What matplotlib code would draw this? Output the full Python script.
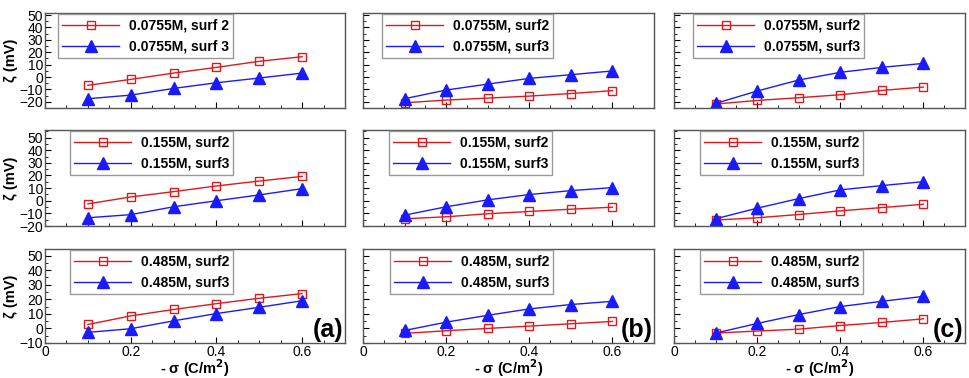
import numpy as np
import matplotlib.pyplot as plt
from matplotlib.ticker import MultipleLocator

plt.rcParams['font.family'] = ['Liberation Sans', 'DejaVu Sans']

# x values: surface charge density (-sigma, C/m^2)
sigma = [0.1, 0.2, 0.3, 0.4, 0.5, 0.6]

# concentrations (rows) and cases (columns)
conc = ['0.0755M', '0.155M', '0.485M']
panel_tags = ['(a)', '(b)', '(c)']

# zeta potential (mV), [row][col]
surf2 = [
    [[-6.7, -1.9, 3.2, 7.8, 12.7, 16.4],
     [-20.8, -18.6, -17.0, -15.4, -13.3, -11.0],
     [-21.8, -18.9, -16.7, -14.3, -10.8, -8.1]],
    [[-2.5, 3.0, 7.2, 11.7, 15.6, 19.3],
     [-14.3, -12.7, -10.3, -8.5, -6.7, -5.1],
     [-15.3, -13.5, -10.9, -8.0, -5.4, -2.8]],
    [[2.7, 8.6, 13.0, 17.0, 20.7, 23.9],
     [-3.4, -1.6, 0.0, 1.6, 3.2, 4.8],
     [-3.2, -1.8, -0.5, 2.0, 4.1, 6.6]],
]
surf3 = [
    [[-17.5, -14.6, -9.2, -4.6, -0.8, 3.2],
     [-17.5, -10.5, -5.7, -1.1, 1.9, 4.9],
     [-21.3, -11.3, -2.4, 3.8, 7.8, 11.0]],
    [[-13.5, -11.0, -4.8, 0.0, 4.6, 9.6],
     [-11.4, -4.8, 0.7, 4.9, 8.0, 10.4],
     [-14.3, -5.9, 1.7, 8.6, 12.0, 15.1]],
    [[-2.7, -0.2, 5.2, 10.2, 14.5, 19.0],
     [-1.4, 4.3, 9.0, 13.4, 16.4, 18.6],
     [-3.2, 3.4, 9.5, 15.0, 18.6, 22.0]],
]

ylims = [(-25, 51.7), (-19.5, 56), (-9.5, 54.5)]
yticks = [np.arange(-20, 51, 10), np.arange(-20, 51, 10), np.arange(-10, 51, 10)]

W, H = 969, 378
col_px = [(45, 300), (363, 291), (674, 291)]
row_px = [(13, 95), (130, 96), (249, 94)]
# legend left edge, px
leg_px = [[58, 382, 693], [70, 389, 700], [70, 390, 700]]

fig = plt.figure(figsize=(W / 100, H / 100), dpi=100)

for r in range(3):
    for c in range(3):
        x0, w = col_px[c]
        y0, h = row_px[r]
        ax = fig.add_axes([x0 / W, 1 - (y0 + h) / H, w / W, h / H])

        lab2 = conc[r] + ', surf2'
        lab3 = conc[r] + ', surf3'
        if r == 0 and c == 0:
            lab2 = conc[r] + ', surf 2'
            lab3 = conc[r] + ', surf 3'

        ax.plot(sigma, surf2[r][c], color='#e0181c', lw=1.0, marker='s', ms=5.5,
                mfc='none', mec='#e0181c', mew=1.0, label=lab2)
        ax.plot(sigma, surf3[r][c], color='#1a1aff', lw=1.0, marker='^', ms=8,
                mfc='#1a1aff', mec='#1a1aff', label=lab3)

        ax.set_xlim(0, 0.7)
        ax.set_ylim(*ylims[r])
        ax.set_yticks(yticks[r])
        ax.xaxis.set_major_locator(MultipleLocator(0.2))
        ax.xaxis.set_minor_locator(MultipleLocator(0.05))
        ax.yaxis.set_minor_locator(MultipleLocator(5))
        ax.tick_params(which='both', direction='in', top=False, right=False,
                       labelsize=10, pad=1.5)
        ax.tick_params(which='major', length=4)
        ax.tick_params(which='minor', length=2)
        for s in ax.spines.values():
            s.set_color('#555555')
            s.set_linewidth(1.0)

        if c == 0:
            ax.set_ylabel('ζ (mV)', fontsize=10.5, fontweight='bold', labelpad=1)
        else:
            ax.set_yticklabels([])
        if r == 2:
            ax.set_xticks([0, 0.2, 0.4, 0.6])
            ax.set_xticklabels(['0', '0.2', '0.4', '0.6'])
            ax.set_xlabel('- σ (C/m$^\\mathbf{2}$)', fontsize=10.5, fontweight='bold',
                          labelpad=-1)
            ax.text(0.995, 0.14, panel_tags[c], transform=ax.transAxes, ha='right',
                    va='center', fontsize=18, fontweight='bold')
        else:
            ax.set_xticklabels([])

        lx = (leg_px[r][c] - x0) / w
        leg = ax.legend(loc='upper left', bbox_to_anchor=(lx, 0.985),
                        handlelength=4.1, handletextpad=0.7, borderpad=0.3,
                        labelspacing=0.5, borderaxespad=0.0,
                        prop={'size': 10, 'weight': 'bold'},
                        fancybox=False, framealpha=1, edgecolor='#999999')
        leg.get_frame().set_linewidth(1.0)

fig.savefig('out.png', dpi=100)
